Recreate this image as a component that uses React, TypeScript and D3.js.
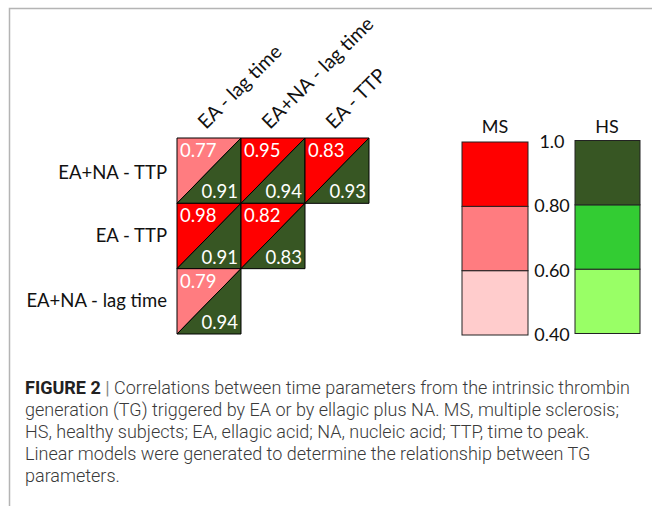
import React from 'react';
import * as d3 from 'd3';

const colLabels = ['EA - lag time', 'EA+NA - lag time', 'EA - TTP'];
const rowLabels = ['EA+NA - TTP', 'EA - TTP', 'EA+NA - lag time'];
// lower triangle of the matrix, one list per row
const msValues = [[0.77, 0.95, 0.83], [0.98, 0.82], [0.79]];
const hsValues = [[0.91, 0.94, 0.93], [0.91, 0.83], [0.94]];

const breaks = [0.4, 0.6, 0.8, 1.0];
const breakLabels = ['0.40', '0.60', '0.80', '1.0'];
const msColors = ['#FFCCCC', '#FF7C80', '#FF0000'];
const hsColors = ['#99FF66', '#33CC33', '#375623'];

const captionLines = [
  'generation (TG) triggered by EA or by ellagic plus NA. MS, multiple sclerosis;',
  'HS, healthy subjects; EA, ellagic acid; NA, nucleic acid; TTP, time to peak.',
  'Linear models were generated to determine the relationship between TG',
  'parameters.',
];

const W = 652;
const H = 506;
const chartFont = 'Lato, "Open Sans", sans-serif';
const capFont = 'Roboto, "Liberation Sans", sans-serif';

const App = () => {
  const x = d3.scaleBand<string>().domain(colLabels).range([177, 369]);
  const y = d3.scaleBand<string>().domain(rowLabels).range([138, 334]);
  const msColor = d3.scaleThreshold<number, string>().domain([0.6, 0.8]).range(msColors);
  const hsColor = d3.scaleThreshold<number, string>().domain([0.6, 0.8]).range(hsColors);
  const legY = d3.scaleLinear().domain([0.4, 1.0]).range([335, 142]);

  const cells: { r: number; c: number; ms: number; hs: number }[] = [];
  msValues.forEach((row, r) => row.forEach((v, c) => cells.push({ r, c, ms: v, hs: hsValues[r][c] })));

  const bw = x.bandwidth();
  const bh = y.bandwidth();
  const segs = d3.pairs(breaks);

  return (
    <div style={{ position: 'fixed', left: 0, top: 0 }}>
      <svg width={W} height={H} style={{ display: 'block', background: '#fff' }}>
        {/* frame */}
        <path d={`M9.5,${H} V8.5 H${W}`} fill="none" stroke="#b4b4b4" strokeWidth={1.5} />

        {/* column labels */}
        {colLabels.map(c => (
          <text key={c} transform={`translate(${x(c)! + bw / 2 - 3},130) rotate(-45)`}
            fontFamily={chartFont} fontSize={19.5} fill="#111">{c}</text>
        ))}
        {/* row labels */}
        {rowLabels.map((r, i) => (
          <text key={r} x={167} y={y(r)! + bh / 2 + 6 + (i === 0 ? 2 : 0)} textAnchor="end"
            fontFamily={chartFont} fontSize={18.5} fill="#111">{r}</text>
        ))}

        {/* split cells */}
        {cells.map(d => {
          const x0 = x(colLabels[d.c])!;
          const y0 = y(rowLabels[d.r])!;
          const x1 = x0 + bw;
          const y1 = y0 + bh;
          return (
            <g key={`${d.r}-${d.c}`}>
              <path d={`M${x0},${y0} H${x1} L${x0},${y1} Z`} fill={msColor(d.ms)} stroke="#000" strokeWidth={1} />
              <path d={`M${x1},${y0} V${y1} H${x0} Z`} fill={hsColor(d.hs)} stroke="#000" strokeWidth={1} />
              <text x={x0 + 3} y={y0 + 19} fontFamily={chartFont} fontSize={18.5} fill="#fff">{d.ms.toFixed(2)}</text>
              <text x={x1 - 3} y={y1 - 5} textAnchor="end" fontFamily={chartFont} fontSize={18.5} fill="#fff">{d.hs.toFixed(2)}</text>
            </g>
          );
        })}

        {/* legend */}
        <text x={495} y={133} textAnchor="middle" fontFamily={chartFont} fontSize={18} fill="#111">MS</text>
        <text x={607} y={133} textAnchor="middle" fontFamily={chartFont} fontSize={18} fill="#111">HS</text>
        {segs.map(([a, b], i) => (
          <g key={i}>
            <rect x={462} y={legY(b)} width={66} height={legY(a) - legY(b)} fill={msColors[i]} stroke="#222" strokeWidth={1} />
            <rect x={575} y={legY(b) - 1.5} width={65} height={legY(a) - legY(b)} fill={hsColors[i]} stroke="#222" strokeWidth={1} />
          </g>
        ))}
        {breaks.map((b, i) => (
          <text key={b} x={552} y={legY(b) + 6} textAnchor="middle" fontFamily={chartFont} fontSize={18} fill="#111">{breakLabels[i]}</text>
        ))}

        {/* caption */}
        <text x={25} y={394} fontFamily={capFont} fontSize={18} fill="#3a3a3a">
          <tspan fontWeight="bold" fill="#222">FIGURE 2</tspan>
          <tspan fill="#888"> | </tspan>
          <tspan fontWeight={300}>Correlations between time parameters from the intrinsic thrombin</tspan>
        </text>
        {captionLines.map((l, i) => (
          <text key={i} x={25} y={416 + i * 22} fontFamily={capFont} fontSize={18} fontWeight={300} fill="#3a3a3a">{l}</text>
        ))}
      </svg>
    </div>
  );
};

export default App;
